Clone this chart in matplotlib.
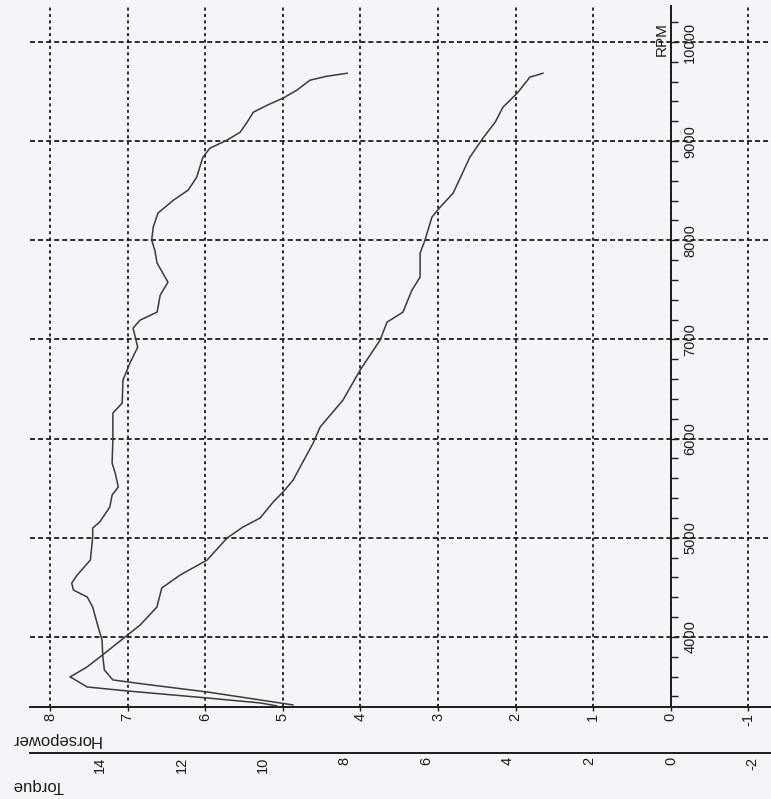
import matplotlib
matplotlib.use("Agg")
import matplotlib.pyplot as plt
from matplotlib.ticker import MultipleLocator, FixedLocator

# dyno sheet, scanned sideways: RPM runs up the page, values run right-to-left
hp_rpm = [3315, 3365, 3446, 3526, 3567, 3667, 3808, 3970, 4101, 4302, 4403, 4474, 4544,
          4625, 4776, 5008, 5099, 5159, 5310, 5431, 5512, 5653, 5754, 5986, 6258, 6359,
          6591, 6762, 6923, 7115, 7195, 7276, 7447, 7578, 7770, 7901, 8002, 8133, 8274,
          8405, 8506, 8637, 8838, 8929, 9010, 9090, 9191, 9292, 9363, 9433, 9514, 9615,
          9655, 9685]
hp = [4.87, 5.29, 5.98, 6.80, 7.19, 7.30, 7.32, 7.33, 7.38, 7.45, 7.52, 7.70, 7.72,
      7.65, 7.48, 7.45, 7.45, 7.36, 7.23, 7.20, 7.12, 7.16, 7.20, 7.19, 7.19, 7.07,
      7.06, 6.97, 6.87, 6.93, 6.84, 6.62, 6.58, 6.48, 6.62, 6.65, 6.69, 6.67, 6.61,
      6.41, 6.22, 6.11, 6.03, 5.94, 5.72, 5.55, 5.46, 5.38, 5.20, 5.00, 4.82, 4.65,
      4.43, 4.17]

tq_rpm = [3305, 3335, 3385, 3456, 3496, 3587, 3597, 3698, 3839, 4000, 4121, 4302, 4494,
          4625, 4776, 4998, 5109, 5200, 5361, 5462, 5583, 5714, 5956, 6117, 6389, 6691,
          6994, 7175, 7276, 7498, 7629, 7871, 8002, 8234, 8334, 8476, 8838, 9030, 9191,
          9342, 9484, 9645, 9685]
torque = [9.66, 10.07, 11.37, 13.33, 14.31, 14.68, 14.73, 14.31, 13.87, 13.38, 13.01,
          12.60, 12.48, 12.03, 11.37, 10.88, 10.49, 10.07, 9.75, 9.51, 9.26, 9.09, 8.77,
          8.60, 8.04, 7.62, 7.13, 6.96, 6.57, 6.35, 6.15, 6.15, 6.03, 5.86, 5.66, 5.34,
          4.93, 4.61, 4.31, 4.12, 3.77, 3.46, 3.14]

hp_ticks = [8, 7, 6, 5, 4, 3, 2, 1, 0, -1]
tq_ticks = [14, 12, 10, 8, 6, 4, 2, 0, -2]
rpm_ticks = [4000, 5000, 6000, 7000, 8000, 9000, 10000]

plt.rcParams['font.family'] = ['Liberation Sans', 'DejaVu Sans']
plt.rcParams['axes.unicode_minus'] = False
plt.rcParams['lines.scale_dashes'] = False

W, H = 771, 799
bg = '#f3f5f8'
ink = '#1c1c1c'
curve = '#3a3a3a'

fig = plt.figure(figsize=(W/100, H/100), dpi=100, facecolor=bg)
ax = fig.add_axes((30/W, 1 - 707/H, 741/W, 701/H))
ax.set_facecolor(bg)
ax.set_xlim(8.258, -1.291)
ax.set_ylim(3294, 10363)

# grid: vertical lines dottier than horizontal ones
ax.xaxis.set_major_locator(FixedLocator(hp_ticks))
ax.yaxis.set_major_locator(FixedLocator(rpm_ticks))
ax.yaxis.set_minor_locator(MultipleLocator(200))
ax.xaxis.grid(True, color=ink, lw=1.3, linestyle=(0, (2.2, 2.4)))
ax.yaxis.grid(True, color=ink, lw=1.3, linestyle=(0, (3.6, 2.2)))
ax.set_axisbelow(True)

for s in ['top', 'left']:
    ax.spines[s].set_visible(False)
ax.spines['bottom'].set_color(ink)
ax.spines['bottom'].set_linewidth(1.4)
ax.spines['right'].set_position(('data', 0))
ax.spines['right'].set_color(ink)
ax.spines['right'].set_linewidth(1.4)
ax.yaxis.tick_right()

ax.tick_params(axis='x', direction='out', length=3, width=1, color=ink,
               labelrotation=90, labelsize=10.5, pad=1, labelcolor=ink)
ax.tick_params(axis='y', which='both', direction='out', length=5, width=1, color=ink,
               labelrotation=90, labelsize=10.5, pad=4, labelcolor=ink)
ax.set_yticklabels([str(v) for v in rpm_ticks], va='center')

ax.plot(hp, hp_rpm, '-', color=curve, lw=1.1)

# second value scale (torque), drawn below the horsepower one
ax2 = ax.twiny()
ax2.set_xlim(15.71, -2.45)
ax2.xaxis.set_ticks_position('bottom')
ax2.xaxis.set_major_locator(FixedLocator(tq_ticks))
for s in ['top', 'left', 'right']:
    ax2.spines[s].set_visible(False)
ax2.spines['bottom'].set_position(('outward', 33))
ax2.spines['bottom'].set_color(ink)
ax2.spines['bottom'].set_linewidth(1.4)
ax2.tick_params(axis='x', direction='out', length=0, labelrotation=90,
                labelsize=10.5, pad=3, labelcolor=ink)
ax2.plot(torque, tq_rpm, '-', color=curve, lw=1.1)

fig.text(56/W, 1 - 740/H, 'Horsepower', rotation=180, ha='center', va='center',
         fontsize=12, color=ink)
fig.text(38/W, 1 - 786/H, 'Torque', rotation=180, ha='center', va='center',
         fontsize=12, color=ink)
fig.text(662/W, 1 - 39/H, 'RPM', rotation=90, ha='center', va='center',
         fontsize=11, color=ink)

fig.savefig('out.png', dpi=100, facecolor=bg)
